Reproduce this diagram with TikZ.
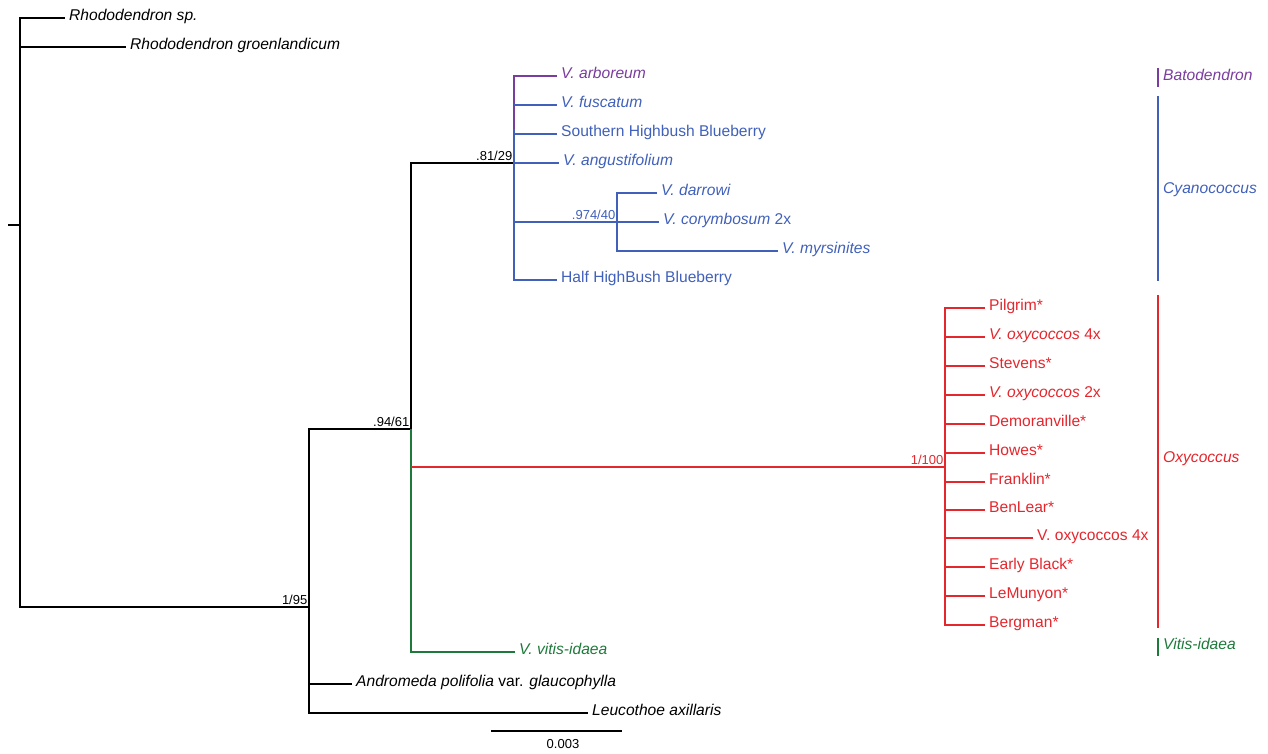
\documentclass[tikz,border=0pt]{standalone}
\usepackage{fontspec}
\setmainfont{Liberation Sans}
\definecolor{cpurple}{HTML}{7A3C9E}
\definecolor{cblue}{HTML}{4060BA}
\definecolor{cred}{HTML}{E4262D}
\definecolor{cgreen}{HTML}{1E7A3B}
\begin{document}
\begin{tikzpicture}[x=1pt,y=-1pt,
  br/.style={line width=2.2pt},
  cbr/.style={line width=1.8pt},
  leaf/.style={anchor=west, inner xsep=4pt, inner ysep=0pt, text height=9pt, text depth=3.7pt, font=\fontsize{15.6}{18}\selectfont},
  supp/.style={anchor=south east, inner xsep=1.5pt, inner ysep=2.5pt, text depth=0pt, font=\fontsize{13}{15}\selectfont},
  clade/.style={anchor=west, inner xsep=5pt, inner ysep=0pt, text height=9pt, text depth=3.7pt, font=\fontsize{15.6}{18}\selectfont\itshape}]
\useasboundingbox (0,0) rectangle (1268,753);

% internal nodes
\coordinate (rs) at (8,225);
\coordinate (r) at (20,225);
\coordinate (n195) at (309,607);
\coordinate (n9461) at (411,429);
\coordinate (n8129) at (514,163);
\coordinate (pb) at (514,129);
\coordinate (n97440) at (617,222);
\coordinate (n1100) at (945,467);

% black leaves
\node[leaf] (rsp) at (65,18) {\textit{Rhododendron sp.}};
\node[leaf] (rgr) at (126,47) {\textit{Rhododendron groenlandicum}};
\node[leaf] (andro) at (352,684) {\textit{Andromeda polifolia} var. \textit{glaucophylla}};
\node[leaf] (leuco) at (588,713) {\textit{Leucothoe axillaris}};
% green
\node[leaf,text=cgreen] (vitis) at (515,652) {\textit{V. vitis-idaea}};
% purple / blue
\node[leaf,text=cpurple] (arb) at (557,76) {\textit{V. arboreum}};
\node[leaf,text=cblue] (fus) at (557,105) {\textit{V. fuscatum}};
\node[leaf,text=cblue] (shb) at (557,134) {Southern Highbush Blueberry};
\node[leaf,text=cblue] (ang) at (559,163) {\textit{V. angustifolium}};
\node[leaf,text=cblue] (dar) at (657,193) {\textit{V. darrowi}};
\node[leaf,text=cblue] (cor) at (659,222) {\textit{V. corymbosum} 2x};
\node[leaf,text=cblue] (myr) at (778,251) {\textit{V. myrsinites}};
\node[leaf,text=cblue] (hhb) at (557,280) {Half HighBush Blueberry};
% red
\node[leaf,text=cred] (pil) at (985,308) {Pilgrim*};
\node[leaf,text=cred] (oxa) at (985,337) {\textit{V. oxycoccos} 4x};
\node[leaf,text=cred] (ste) at (985,366) {Stevens*};
\node[leaf,text=cred] (oxb) at (985,395) {\textit{V. oxycoccos} 2x};
\node[leaf,text=cred] (dem) at (985,424) {Demoranville*};
\node[leaf,text=cred] (how) at (985,453) {Howes*};
\node[leaf,text=cred] (fra) at (985,482) {Franklin*};
\node[leaf,text=cred] (ben) at (985,510) {BenLear*};
\node[leaf,text=cred] (oxc) at (1033,538) {V. oxycoccos 4x};
\node[leaf,text=cred] (ear) at (985,567) {Early Black*};
\node[leaf,text=cred] (lem) at (985,596) {LeMunyon*};
\node[leaf,text=cred] (ber) at (985,625) {Bergman*};

% black branches
\draw[br] (rs) -- (r);
\draw[br] (r) |- (rsp.west);
\draw[br] (r) |- (rgr.west);
\draw[br] (r) |- (n195);
\draw[br] (n195) |- (n9461);
\draw[br] (n195) |- (andro.west);
\draw[br] (n195) |- (leuco.west);
\draw[br] (n9461) |- (n8129);

% green and red from .94/61
\draw[cbr,cgreen] (n9461) |- (vitis.west);
\draw[cbr,cred] (n9461 |- n1100) -- (n1100);

% purple / blue clade
\draw[cbr,cpurple] (pb) |- (arb.west);
\draw[cbr,cblue] (pb) |- (hhb.west);
\draw[cbr,cblue] (n8129 |- fus.west) -- (fus.west);
\draw[cbr,cblue] (n8129 |- shb.west) -- (shb.west);
\draw[cbr,cblue] (n8129) -- (ang.west);
\draw[cbr,cblue] (n8129 |- n97440) -- (cor.west);
\draw[cbr,cblue] (n97440) |- (dar.west);
\draw[cbr,cblue] (n97440) |- (myr.west);

% red clade
\foreach \l in {pil,oxa,ste,oxb,dem,how,fra,ben,oxc,ear,lem,ber}
  \draw[cbr,cred] (n1100) |- (\l.west);

% support values
\node[supp] (l195) at (n195) {1/95};
\node[supp] (l9461) at (n9461) {.94/61};
\node[supp] (l8129) at (n8129) {.81/29};
\node[supp,text=cblue] (l97440) at (n97440) {.974/40};
\node[supp,text=cred] (l1100) at (n1100) {1/100};

% clade bars
\coordinate (bt1) at (1158,68); \coordinate (bt2) at (1158,87);
\coordinate (cy1) at (1158,96); \coordinate (cy2) at (1158,281);
\coordinate (ox1) at (1158,295); \coordinate (ox2) at (1158,628);
\coordinate (vi1) at (1158,638); \coordinate (vi2) at (1158,656);
\draw[cbr,cpurple] (bt1) -- (bt2);
\draw[cbr,cblue] (cy1) -- (cy2);
\draw[cbr,cred] (ox1) -- (ox2);
\draw[cbr,cgreen] (vi1) -- (vi2);
\node[clade,text=cpurple] (bat) at (1158,78) {Batodendron};
\node[clade,text=cblue] (cya) at (1158,191) {Cyanococcus};
\node[clade,text=cred] (oxy) at (1158,460) {Oxycoccus};
\node[clade,text=cgreen] (vid) at (1158,647) {Vitis-idaea};

% scale bar
\coordinate (s1) at (491,731);
\coordinate (s2) at (622,731);
\draw[line width=2pt] (s1) -- (s2);
\node[font=\fontsize{13}{15}\selectfont, inner sep=0pt] (sl) at (563,744) {0.003};
\end{tikzpicture}
\end{document}
